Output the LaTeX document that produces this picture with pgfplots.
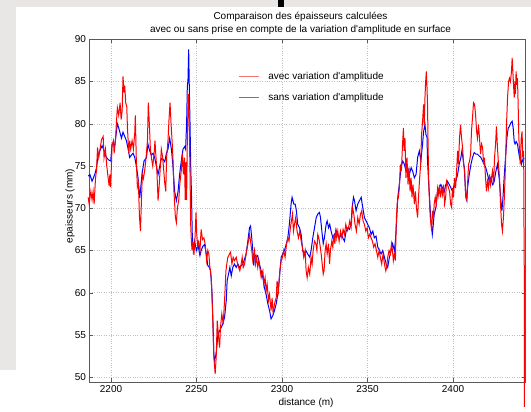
\documentclass[border=0pt]{standalone}
\usepackage{fontspec}
\setmainfont{Liberation Sans}
\usepackage{pgfplots}
\pgfplotsset{compat=1.18}
\definecolor{figgray}{RGB}{232,231,229}
\definecolor{legred}{RGB}{242,120,120}
\definecolor{legblue}{RGB}{100,100,255}
\newcommand{\ap}{\textquotesingle}
\begin{document}
\fontsize{10}{12}\selectfont
\begin{tikzpicture}[x=1pt,y=1pt]
\fill[white] (-89.5,-24.7) rectangle (441.5,382.3);
\fill[figgray] (-89.5,375.3) rectangle (441.5,382.3);
\fill[figgray] (-89.5,12.3) rectangle (-73.5,375.3);
\fill[black] (188.5,375.3) rectangle (194.5,382.3);
\node[align=center, font=\fontsize{10}{13}\selectfont] at (211,359.3)
 {Comparaison des épaisseurs calculées\\avec ou sans prise en compte de la variation d\ap amplitude en surface};
\begin{axis}[
 at={(0,0)}, anchor=south west,
 scale only axis, width=436pt, height=343pt,
 xmin=2187.4, xmax=2442.4, ymin=49.4, ymax=90,
 xtick={2200,2250,...,2400}, ytick={50,55,...,90},
 /pgf/number format/1000 sep={},
 /pgf/number format/assume math mode=true,
 ticklabel style={font=\fontsize{10}{12}\selectfont},
 grid=major, major grid style={dotted, gray!50, line width=0.5pt},
 axis line style={black!65}, tick style={black!65, line width=0.4pt},
 tick align=inside, major tick length=4pt,
 xlabel={distance (m)}, ylabel={epaisseurs (mm)},
 xlabel style={at={(axis description cs:0.4966,-0.0613)}, anchor=center, font=\fontsize{10}{12}\selectfont},
 ylabel style={at={(axis description cs:-0.0447,0.514)}, anchor=center, font=\fontsize{10}{12}\selectfont},
 clip=false,
 legend style={at={(0.341,0.911)}, anchor=north west, draw=none, fill=none,
   font=\fontsize{10}{12}\selectfont, row sep=8.5pt, inner sep=0pt, nodes={inner sep=2pt}},
 legend cell align=left,
 legend image code/.code={\draw[line width=1pt,#1] (0pt,0pt) -- (20pt,0pt);},
]
\addplot[blue, line width=1pt, forget plot] coordinates {
(2186.6,73.8)(2187.6,74.0)(2188.9,73.2)(2190.5,74.0)(2191.5,74.8)(2192.4,76.2)(2193.4,76.8)(2194.8,77.4)(2196.3,76.6)(2197.3,76.0)(2198.7,75.7)(2199.8,75.6)(2200.6,77.6)(2202.2,77.5)(2203.7,80.0)(2204.5,79.5)(2206.1,78.3)(2207.0,79.0)(2208.0,78.5)(2209.0,78.0)(2210.0,77.0)(2210.9,76.0)(2211.9,76.3)(2212.9,76.5)(2213.9,76.0)(2214.8,75.0)(2215.8,73.6)(2216.8,71.2)(2217.4,72.5)(2218.1,74.0)(2219.3,75.6)(2220.7,76.0)(2221.6,77.6)(2222.6,76.8)(2223.6,76.3)(2224.6,76.5)(2225.5,76.0)(2226.5,75.0)(2227.5,74.0)(2228.5,75.0)(2229.4,75.9)(2230.4,75.8)(2231.4,75.5)(2232.4,76.5)(2233.3,77.0)(2234.3,78.3)(2235.3,77.0)(2236.2,75.0)(2237.2,72.0)(2238.2,70.9)(2239.2,72.0)(2240.1,74.0)(2241.1,75.6)(2242.1,77.0)(2243.1,77.3)(2243.6,77.0)(2244.2,80.0)(2244.6,84.3)(2245.0,85.2)(2245.4,88.8)(2245.8,84.0)(2246.2,80.0)(2246.6,75.0)(2247.0,72.0)(2247.5,67.0)(2248.1,65.0)(2248.9,66.1)(2249.9,65.0)(2250.9,65.6)(2252.0,64.4)
(2252.7,65.0)(2253.7,65.5)(2254.7,65.7)(2255.7,64.6)(2256.6,63.2)(2257.6,63.0)(2258.2,62.6)(2259.0,60.2)(2259.6,56.7)(2260.1,52.8)(2260.5,52.0)(2261.1,52.4)(2261.7,53.2)(2262.5,55.1)(2263.5,55.5)(2264.4,55.9)(2265.4,56.3)(2266.4,57.1)(2267.4,59.1)(2267.9,61.4)(2268.7,62.2)(2269.5,63.0)(2270.3,62.0)(2271.2,63.0)(2272.2,63.4)(2273.2,63.0)(2274.2,63.4)(2275.1,63.0)(2276.1,63.2)(2277.1,63.4)(2278.1,64.0)(2279.0,64.6)(2280.0,66.1)(2281.0,67.7)(2281.6,67.9)(2282.3,66.5)(2282.9,65.0)(2283.5,63.2)(2283.9,64.6)(2284.9,64.2)(2285.8,64.4)(2286.8,63.4)(2287.8,62.6)(2288.8,61.8)(2289.7,60.6)(2290.7,59.8)(2291.7,58.7)(2292.7,57.9)(2293.6,56.9)(2294.6,57.3)(2295.6,57.9)(2296.6,58.7)(2297.5,59.8)(2298.5,61.8)(2299.5,64.2)(2300.4,64.6)(2301.4,65.0)(2302.4,65.7)(2303.4,66.5)(2304.3,68.1)(2305.3,70.5)(2305.9,71.3)(2306.9,70.5)(2307.7,70.5)(2308.4,69.7)(2309.2,68.1)(2310.2,67.7)(2311.2,66.9)(2312.1,65.0)(2313.1,64.6)(2313.9,65.0)(2315.0,64.6)(2316.2,64.2)
(2317.0,65.0)(2318.0,66.5)(2319.0,67.7)(2320.0,68.9)(2320.9,69.3)(2321.9,69.5)(2322.5,68.9)(2323.3,67.3)(2324.1,65.8)(2324.8,66.5)(2325.8,68.1)(2326.4,68.5)(2327.2,67.7)(2327.9,68.1)(2328.7,67.3)(2329.7,66.5)(2330.7,66.9)(2331.7,67.3)(2332.6,66.9)(2333.6,66.5)(2334.6,66.9)(2335.5,66.5)(2336.5,66.1)(2337.5,67.3)(2338.5,67.7)(2339.4,67.5)(2340.4,68.1)(2341.0,70.1)(2341.8,71.3)(2342.4,70.9)(2343.3,69.7)(2344.3,70.5)(2345.3,70.9)(2346.3,71.3)(2347.2,70.1)(2348.2,68.9)(2349.2,68.5)(2350.1,68.1)(2351.1,67.7)(2352.1,66.9)(2353.1,67.3)(2354.0,66.5)(2355.0,66.7)(2356.0,65.4)(2357.0,65.0)(2357.9,64.6)(2358.9,65.0)(2359.9,64.2)(2360.9,63.4)(2361.8,63.0)(2362.8,64.2)(2363.8,65.0)(2364.7,65.8)(2365.7,65.0)(2366.3,66.1)(2366.9,68.1)(2367.7,71.3)(2368.6,72.8)(2369.6,74.8)(2370.6,75.6)(2371.6,75.2)(2372.5,74.4)(2373.5,74.8)(2374.5,74.0)(2375.5,74.8)(2376.4,74.4)(2377.4,73.6)(2378.4,74.0)(2379.3,76.0)(2380.3,76.8)
(2381.2,75.6)(2382.2,77.6)(2382.8,79.1)(2383.6,79.9)(2384.2,78.7)(2384.8,78.4)(2385.1,75.6)(2385.7,73.2)(2386.3,71.3)(2386.7,69.7)(2387.5,67.7)(2387.9,66.9)(2388.3,67.7)(2389.0,69.3)(2390.0,70.1)(2391.0,72.0)(2392.0,72.4)(2392.9,72.8)(2393.9,72.4)(2394.9,72.0)(2395.8,72.8)(2396.8,73.2)(2397.8,72.8)(2398.8,72.4)(2399.7,72.0)(2400.7,72.8)(2401.7,73.2)(2402.7,74.0)(2403.6,75.2)(2404.6,76.0)(2405.2,76.8)(2405.8,76.0)(2406.6,74.8)(2407.5,71.3)(2408.1,70.9)(2408.5,72.4)(2409.5,74.0)(2410.5,75.2)(2411.4,76.0)(2412.4,76.6)(2413.4,76.4)(2414.3,76.4)(2415.3,76.2)(2416.3,76.0)(2417.3,75.6)(2418.2,75.2)(2419.2,74.8)(2420.2,74.0)(2421.2,73.2)(2422.1,73.6)(2423.1,72.8)(2424.1,73.2)(2425.1,74.4)(2426.0,75.2)(2427.0,73.6)(2428.0,70.9)(2428.6,69.7)(2429.1,70.9)(2429.9,73.6)(2430.7,76.0)(2431.5,78.3)(2432.3,79.5)(2433.0,79.7)(2433.8,80.1)(2434.6,80.3)(2435.2,79.5)(2435.8,77.9)(2436.3,77.6)(2436.9,77.9)(2437.7,77.6)(2438.3,76.8)(2438.9,76.0)(2439.5,76.4)(2440.0,75.2)(2440.6,75.6)(2441.2,76.0)(2441.6,75.8)
};
\addplot[red, line width=1pt, forget plot] coordinates {
(2186.6,71.3)(2187.2,70.5)(2188.2,72.0)(2188.9,71.0)(2189.5,72.0)(2190.1,70.5)(2190.9,73.5)(2191.5,74.5)(2192.1,77.2)(2192.8,76.0)(2193.6,77.0)(2194.4,78.1)(2195.4,78.5)(2195.9,76.0)(2196.7,77.0)(2197.5,75.0)(2198.3,73.6)(2198.9,72.6)(2199.3,74.0)(2199.8,72.5)(2200.6,77.5)(2201.4,78.0)(2201.8,76.5)(2202.6,78.0)(2203.1,80.0)(2203.7,81.9)(2204.5,81.0)(2205.3,82.5)(2205.9,80.5)(2206.5,81.5)(2207.0,85.6)(2207.6,83.7)(2208.0,84.5)(2208.6,82.5)(2209.2,82.0)(2209.6,79.5)(2210.0,78.0)(2210.4,76.5)(2210.9,78.0)(2211.5,77.0)(2212.3,78.0)(2213.1,77.0)(2213.9,79.0)(2214.2,81.0)(2214.8,75.5)(2215.4,72.5)(2216.0,73.0)(2216.6,69.1)(2217.2,67.3)(2217.8,71.0)(2218.3,74.0)(2218.9,73.5)(2219.7,74.5)(2220.5,76.0)(2221.3,78.0)(2221.8,82.5)(2222.4,80.0)(2223.0,77.0)(2223.6,76.0)(2224.4,75.0)(2225.2,76.5)(2225.7,78.0)(2226.3,76.0)(2226.9,74.0)(2227.5,70.9)(2228.1,72.5)(2228.7,74.5)(2229.4,77.0)(2230.2,76.0)(2230.8,74.5)(2231.4,73.0)(2232.0,72.0)(2232.5,76.0)(2233.3,78.0)(2233.9,80.5)(2234.5,82.5)(2235.1,80.0)(2235.7,78.0)(2236.2,76.0)(2236.8,72.0)(2237.6,69.0)(2238.2,68.3)(2238.8,70.0)(2239.6,71.0)(2240.3,73.0)(2241.1,74.5)(2241.7,76.5)(2242.3,74.0)(2242.9,76.0)(2243.4,71.0)(2243.8,75.5)(2244.2,71.0)(2244.6,78.0)(2245.0,82.0)(2245.4,83.5)(2245.8,79.0)(2246.2,74.0)(2246.6,68.0)(2247.0,66.0)(2247.4,65.0)(2247.9,66.0)(2248.5,64.5)(2249.1,66.5)(2249.7,69.5)(2250.1,67.0)(2250.7,65.5)(2251.2,66.0)(2252.0,65.0)
(2252.7,67.5)(2253.5,66.3)(2254.3,66.5)(2255.1,65.7)(2255.9,63.8)(2256.6,65.0)(2257.2,64.6)(2257.8,63.0)(2258.6,61.8)(2259.2,58.7)(2259.8,54.7)(2260.1,52.4)(2260.9,50.4)(2261.5,52.4)(2262.1,56.7)(2262.9,54.7)(2263.5,53.5)(2264.0,55.9)(2264.8,57.5)(2265.6,56.3)(2266.4,59.1)(2267.2,62.6)(2267.7,63.4)(2268.3,64.2)(2269.3,64.6)(2269.9,64.8)(2270.7,63.4)(2271.4,64.2)(2272.2,63.8)(2273.2,64.2)(2273.8,63.6)(2274.6,63.0)(2275.3,62.6)(2276.1,63.4)(2276.7,64.2)(2277.3,63.0)(2278.1,63.4)(2279.0,64.6)(2280.0,65.7)(2281.0,66.9)(2281.6,66.1)(2282.3,65.0)(2282.9,63.8)(2283.9,65.0)(2284.5,63.4)(2285.1,64.2)(2285.8,63.0)(2286.4,63.8)(2287.0,63.0)(2287.8,61.8)(2288.8,62.6)(2289.4,61.0)(2290.1,61.8)(2290.7,60.2)(2291.3,61.0)(2292.1,59.1)(2292.7,59.8)(2293.6,57.9)(2294.2,59.4)(2294.8,57.5)(2295.6,58.7)(2296.6,59.4)(2297.1,61.4)(2297.9,60.2)(2298.7,62.6)(2299.5,63.8)(2300.3,64.2)(2301.0,65.0)(2301.8,64.2)(2302.6,65.7)(2303.4,66.5)(2304.1,66.1)(2304.9,67.7)(2305.5,68.5)(2306.1,69.3)(2306.7,67.3)(2307.3,68.1)(2308.0,68.9)(2308.8,67.3)(2309.6,66.5)(2310.4,67.3)(2311.2,66.1)(2311.9,65.4)(2312.7,64.2)(2313.5,65.0)(2314.1,62.6)(2314.7,61.8)(2315.4,63.0)(2316.2,62.2)
(2317.0,64.2)(2317.6,63.4)(2318.2,65.0)(2319.0,66.1)(2319.8,65.8)(2320.4,65.0)(2320.9,66.9)(2321.5,66.5)(2322.1,65.8)(2322.9,64.6)(2323.5,63.4)(2324.1,62.2)(2324.6,62.6)(2325.2,65.0)(2325.8,65.8)(2326.4,64.6)(2327.2,65.8)(2327.8,63.4)(2328.3,65.0)(2329.1,66.1)(2329.7,65.4)(2330.3,66.9)(2330.9,65.8)(2331.5,67.7)(2332.0,66.5)(2332.6,67.3)(2333.4,66.1)(2334.2,67.3)(2335.0,66.5)(2335.7,67.5)(2336.5,66.9)(2337.3,68.1)(2338.1,67.3)(2338.9,67.7)(2339.6,68.5)(2340.4,67.7)(2341.2,70.1)(2342.0,69.3)(2342.7,68.1)(2343.5,67.3)(2344.3,68.9)(2345.1,68.1)(2345.9,69.3)(2346.6,69.7)(2347.4,68.5)(2348.2,68.1)(2349.0,67.3)(2349.8,67.7)(2350.5,66.5)(2351.3,66.9)(2352.1,66.5)(2352.9,66.1)(2353.6,65.4)(2354.4,65.8)(2355.2,65.0)(2356.0,64.2)(2356.8,65.0)(2357.5,64.2)(2358.3,63.4)(2359.1,64.6)(2359.9,63.4)(2360.7,62.6)(2361.2,63.0)(2361.8,64.2)(2362.6,65.0)(2363.4,64.6)(2364.0,65.8)(2364.6,65.0)(2365.1,63.8)(2365.7,64.6)(2366.3,63.8)(2366.9,68.9)(2367.5,70.9)(2368.1,71.3)(2368.6,72.4)(2369.2,75.2)(2369.8,74.4)(2370.4,77.2)(2371.0,79.5)(2371.4,76.8)(2371.9,78.3)(2372.5,73.6)(2373.1,76.0)(2373.7,72.8)(2374.3,74.8)(2374.9,72.0)(2375.5,73.6)(2376.0,71.3)(2376.6,72.8)(2377.4,70.5)(2378.0,72.0)(2378.6,70.1)(2379.3,68.9)(2379.9,71.6)(2380.5,73.6)
(2381.1,75.2)(2381.6,78.7)(2382.2,80.3)(2382.8,82.3)(2383.2,79.9)(2383.6,83.1)(2384.0,85.0)(2384.4,86.2)(2384.8,84.3)(2385.1,82.3)(2385.5,76.4)(2385.9,72.4)(2386.3,70.5)(2386.7,68.9)(2387.1,68.1)(2387.5,67.3)(2388.1,69.7)(2388.6,68.9)(2389.0,70.5)(2389.6,71.3)(2390.2,70.5)(2391.0,72.4)(2391.6,71.6)(2392.1,72.8)(2392.7,71.3)(2393.3,72.4)(2393.9,71.6)(2394.5,72.8)(2395.1,70.5)(2395.7,71.3)(2396.2,73.2)(2396.8,72.8)(2397.4,72.4)(2398.0,72.0)(2398.6,70.5)(2399.2,70.1)(2399.7,72.4)(2400.3,71.3)(2400.9,73.6)(2401.5,72.4)(2402.1,74.4)(2402.7,76.8)(2403.2,75.2)(2403.8,78.3)(2404.4,79.9)(2405.0,78.3)(2405.6,77.2)(2406.2,75.2)(2406.8,74.4)(2407.3,72.0)(2407.9,70.9)(2408.5,72.8)(2409.1,75.2)(2409.7,75.6)(2410.3,76.4)(2410.8,79.1)(2411.4,80.7)(2412.0,82.5)(2412.6,82.3)(2413.2,81.1)(2413.8,79.1)(2414.3,78.3)(2414.9,79.9)(2415.5,78.3)(2416.1,76.4)(2416.7,77.6)(2417.3,77.2)(2417.9,75.2)(2418.4,76.0)(2419.0,73.6)(2419.6,72.0)(2420.2,73.2)(2420.8,72.4)(2421.4,74.0)(2421.9,72.8)(2422.5,73.6)(2423.1,74.4)(2423.7,72.8)(2424.3,76.0)(2424.9,77.6)(2425.4,79.7)(2426.0,77.2)(2426.6,75.2)(2427.2,73.6)(2427.8,70.5)(2428.4,68.1)(2428.9,67.3)(2429.5,68.9)(2430.1,71.6)(2430.7,75.2)(2431.3,79.9)(2431.9,83.1)(2432.5,85.0)(2433.0,85.4)(2433.6,85.0)(2434.2,86.2)(2434.6,87.8)(2435.0,86.2)(2435.4,84.6)(2435.8,83.1)(2436.2,85.0)(2436.5,83.5)(2436.9,86.2)(2437.3,84.6)(2437.7,85.4)(2438.1,82.3)(2438.5,78.3)(2438.9,76.8)(2439.3,75.2)(2439.9,78.3)(2440.4,79.1)(2440.8,76.0)(2441.2,76.8)(2441.4,74.4)(2441.6,63.4)(2441.8,63.0)(2441.8,46.5)
};
\addlegendimage{legred}
\addlegendimage{legblue}
\legend{\hspace{7pt}avec variation d\ap amplitude, \hspace{7pt}sans variation d\ap amplitude}
\end{axis}
\end{tikzpicture}
\end{document}
